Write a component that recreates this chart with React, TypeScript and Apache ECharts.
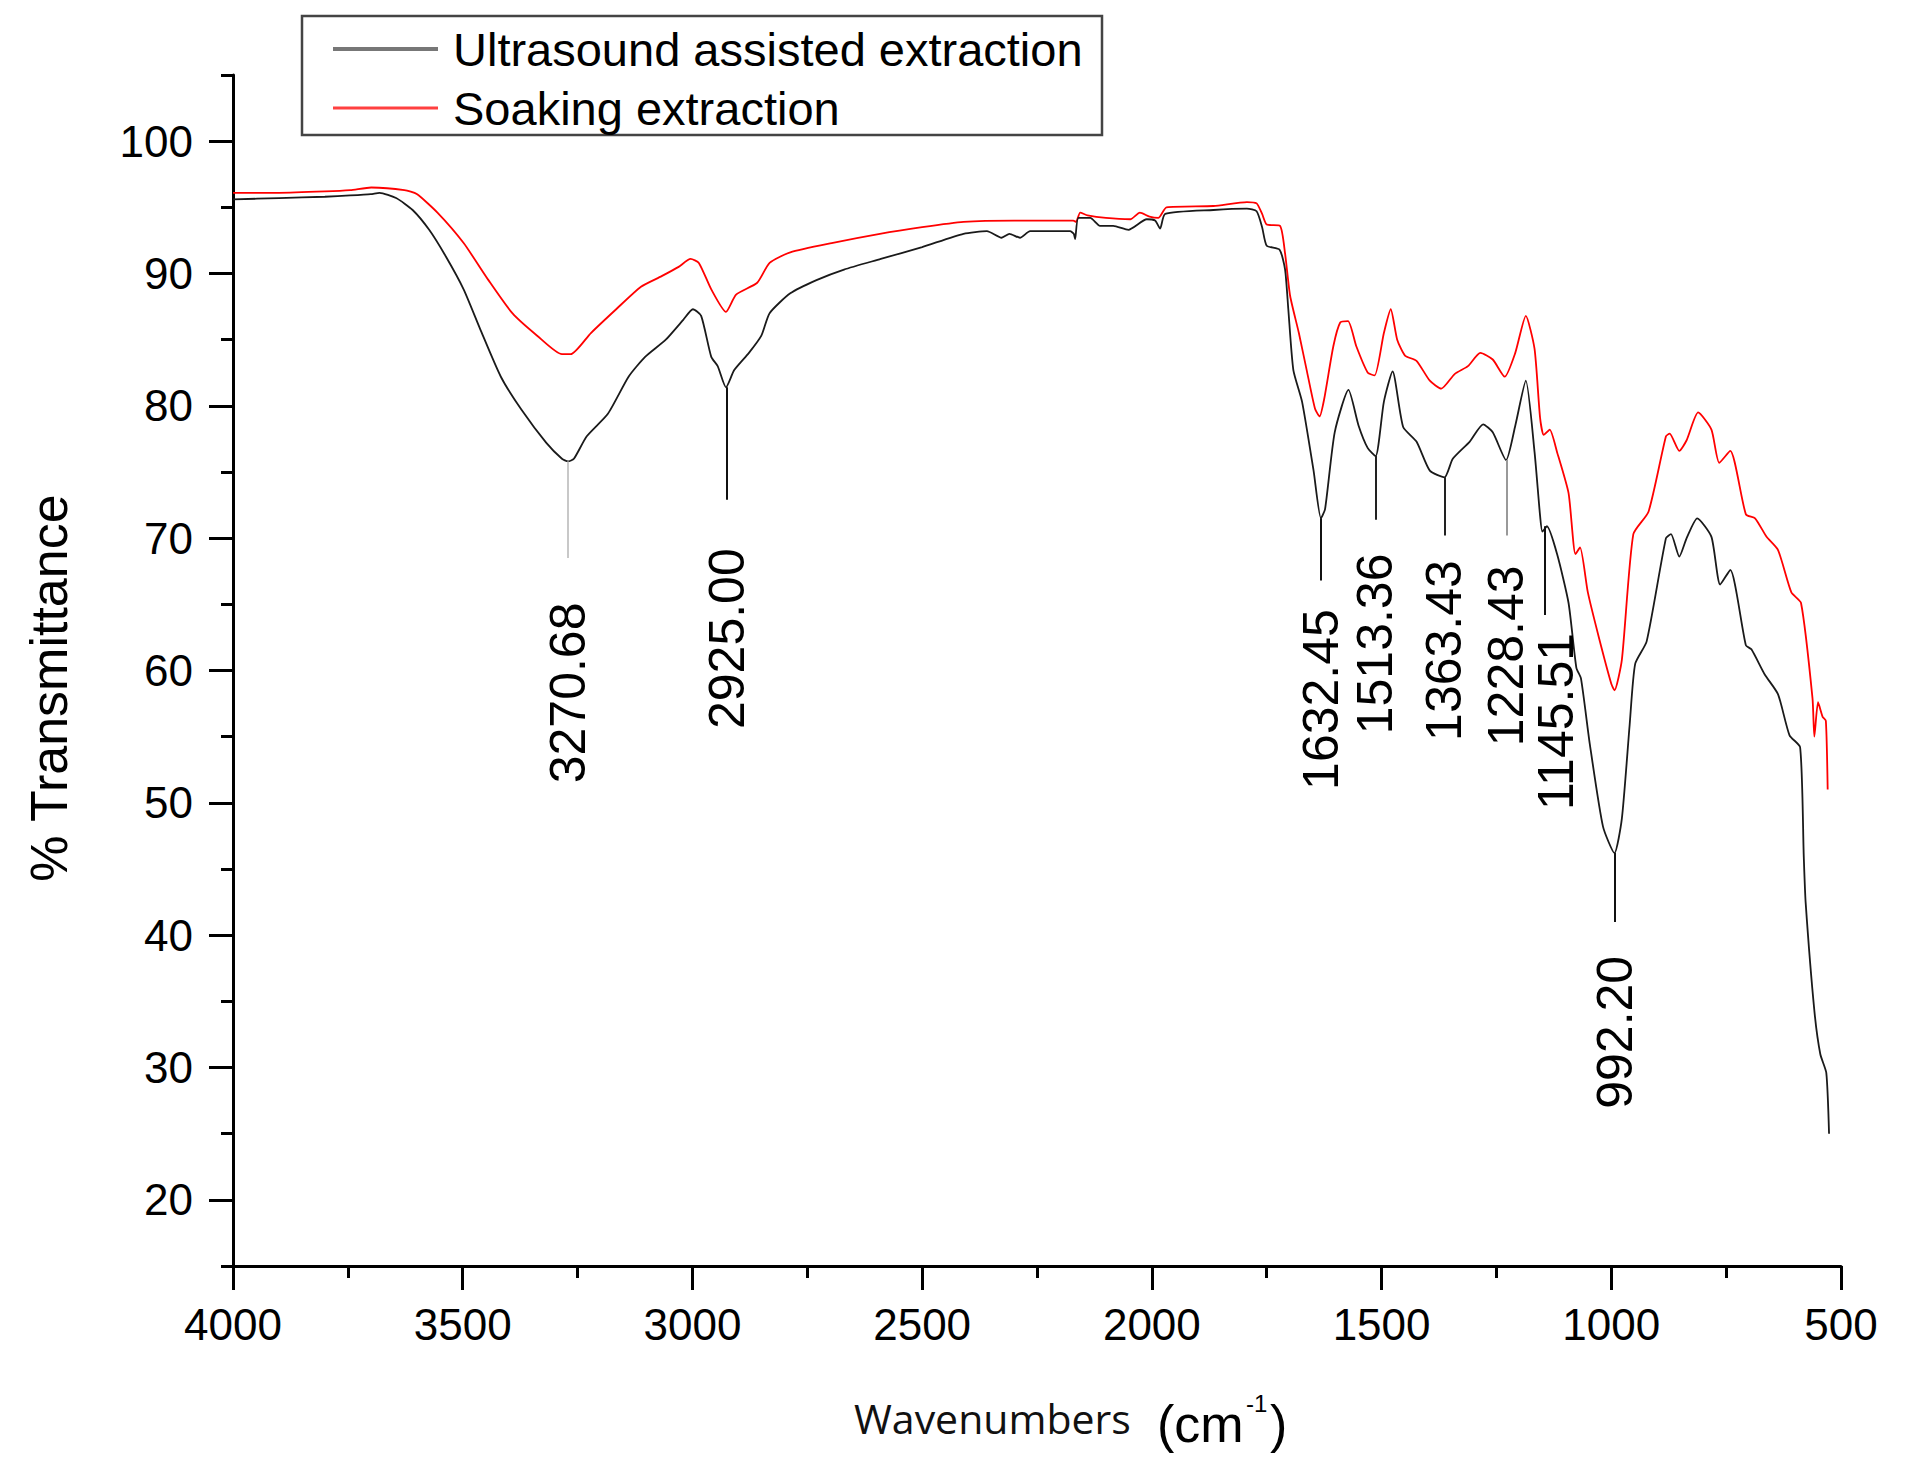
import React, { useEffect, useRef } from "react";
import * as echarts from "echarts";

// ---------- data ----------
const seriesNames = ["Ultrasound assisted extraction", "Soaking extraction"];

const ultrasoundWn = [
  4000, 3900, 3800, 3745, 3700, 3681, 3645, 3609, 3573, 3537, 3498, 3462, 3417, 3372, 3318, 3284, 3271, 3258,
  3230, 3184, 3139, 3103, 3058, 3020, 2999, 2981, 2959, 2945, 2927, 2909, 2877, 2850, 2832, 2787, 2730, 2670,
  2590, 2500, 2410, 2359, 2327, 2310, 2287, 2265, 2178, 2170, 2167, 2160, 2134, 2113, 2084, 2051, 2011, 1993,
  1982, 1971, 1866, 1793, 1772, 1760, 1750, 1722, 1710, 1703, 1692, 1673, 1648, 1632, 1623, 1602, 1572, 1550,
  1530, 1513, 1495, 1476, 1453, 1424, 1395, 1363, 1345, 1308, 1279, 1258, 1229, 1209, 1186, 1167, 1155, 1150,
  1140, 1118, 1093, 1076, 1066, 1047, 1018, 993, 977, 960, 948, 923, 881, 870, 852, 836, 813, 782, 763, 741,
  707, 695, 666, 637, 612, 589, 581, 577, 558, 545, 532, 526,
];
const ultrasoundT = [
  95.6, 95.7, 95.8, 95.9, 96.0, 96.1, 95.7, 94.8, 93.3, 91.3, 88.8, 85.8, 82.2, 79.7, 77.2, 76.0, 75.8, 76.0,
  77.7, 79.4, 82.2, 83.7, 85.0, 86.5, 87.3, 86.8, 83.7, 83.0, 81.4, 82.7, 84.0, 85.3, 87.0, 88.5, 89.5, 90.3,
  91.1, 92.0, 93.0, 93.2, 92.7, 93.0, 92.7, 93.2, 93.2, 93.0, 92.6, 94.2, 94.2, 93.6, 93.6, 93.3, 94.1, 94.0,
  93.4, 94.5, 94.8, 94.9, 94.7, 93.5, 92.1, 91.8, 90.3, 87.3, 82.7, 80.3, 75.1, 71.5, 72.2, 78.0, 81.2, 78.5,
  76.8, 76.2, 80.3, 82.6, 78.4, 77.3, 75.1, 74.6, 76.0, 77.3, 78.6, 78.0, 75.9, 78.5, 81.9, 76.5, 71.7, 70.5,
  70.9, 68.8, 65.1, 60.2, 59.4, 54.5, 48.2, 46.2, 48.8, 55.9, 60.5, 62.2, 70.0, 70.3, 68.6, 70.0, 71.5, 70.1,
  66.5, 67.6, 61.9, 61.6, 59.7, 58.2, 55.1, 54.2, 45.9, 42.5, 34.3, 31.0, 29.6, 25.0,
];

const soakingWn = [
  4000, 3900, 3800, 3745, 3699, 3627, 3600, 3555, 3498, 3444, 3392, 3338, 3284, 3265, 3221, 3166, 3112, 3067,
  3030, 3004, 2986, 2959, 2927, 2905, 2859, 2832, 2787, 2697, 2592, 2500, 2410, 2300, 2171, 2165, 2156, 2140,
  2100, 2047, 2026, 2005, 1986, 1968, 1866, 1793, 1772, 1760, 1750, 1721, 1710, 1699, 1680, 1663, 1645, 1635,
  1625, 1605, 1590, 1573, 1555, 1530, 1515, 1495, 1480, 1466, 1449, 1424, 1395, 1370, 1341, 1312, 1285, 1258,
  1232, 1209, 1186, 1167, 1155, 1147, 1134, 1118, 1093, 1078, 1068, 1051, 1027, 1000, 993, 977, 952, 919, 881,
  873, 852, 836, 811, 782, 765, 741, 707, 687, 662, 637, 608, 587, 562, 558, 550, 540, 533, 529,
];
const soakingT = [
  96.1, 96.1, 96.2, 96.3, 96.5, 96.3, 96.0, 94.6, 92.3, 89.5, 87.0, 85.3, 83.9, 83.9, 85.5, 87.3, 89.0, 89.8,
  90.5, 91.1, 90.8, 88.8, 87.1, 88.4, 89.3, 90.8, 91.6, 92.3, 93.0, 93.5, 93.9, 94.0, 94.0, 93.9, 94.6, 94.4,
  94.2, 94.1, 94.6, 94.3, 94.2, 95.0, 95.1, 95.4, 95.3, 94.5, 93.7, 93.6, 91.5, 88.3, 85.5, 82.7, 79.8, 79.2,
  80.5, 84.5, 86.3, 86.4, 84.5, 82.5, 82.3, 85.5, 87.3, 85.0, 83.8, 83.4, 81.9, 81.3, 82.4, 83.0, 84.0, 83.5,
  82.2, 84.0, 86.8, 84.3, 79.1, 77.8, 78.2, 76.5, 73.4, 68.8, 69.3, 65.9, 62.5, 59.0, 58.5, 60.8, 70.3, 72.0,
  77.7, 77.9, 76.6, 77.4, 79.5, 78.2, 75.7, 76.6, 71.8, 71.5, 70.1, 69.1, 65.9, 65.1, 57.9, 55.0, 57.6, 56.5,
  56.2, 51.0,
];

// peak annotations
const peakWn = [3270.68, 2925.0, 1632.45, 1513.36, 1363.43, 1228.43, 1145.51, 992.2];
const peakLabels = ["3270.68", "2925.00", "1632.45", "1513.36", "1363.43", "1228.43", "1145.51", "992.20"];
const peakLineTop = [75.8, 81.4, 71.5, 76.2, 74.6, 75.9, 70.9, 46.2];
const peakLineBottom = [68.5, 72.9, 66.8, 71.4, 70.2, 70.2, 64.2, 41.0];
const peakLabelTop = [65.1, 69.2, 64.6, 68.8, 68.3, 67.9, 62.8, 38.4];
const peakLineColors = ["#c8c8c8", "#111", "#111", "#222", "#222", "#999", "#111", "#111"];

// axes
const xMin = 500;
const xMax = 4000;
const xInterval = 500;
const yMin = 15;
const yMax = 105;
const yMinorInterval = 5;
const yMajorTicks = [20, 30, 40, 50, 60, 70, 80, 90, 100];

const FONT = "'Liberation Sans', Arial, sans-serif";

export default function App() {
  const ref = useRef<HTMLDivElement>(null);

  useEffect(() => {
    if (!ref.current) return;
    const chart = echarts.init(ref.current, undefined, { renderer: "svg" });

    const usData = ultrasoundWn.map((w, i) => [w, ultrasoundT[i]]);
    const soData = soakingWn.map((w, i) => [w, soakingT[i]]);

    const markLines = peakWn.map((w, i) => [
      { coord: [w, peakLineTop[i]], lineStyle: { color: peakLineColors[i], width: 2, type: "solid" } },
      { coord: [w, peakLineBottom[i]] },
    ]);

    // small horizontal nudge so the 1145.51 label clears its neighbour, as in the reference
    const labelOffsets: Record<string, number[]> = { "1145.51": [0, 12] };

    const legendBox = { x: 302, y: 16, w: 800, h: 119 };
    const legendRows = [49, 108];
    const legendLineColors = ["#777", "#ff4040"];
    const legendLineWidths = [4, 3];

    const legendGraphics: any[] = [
      {
        type: "rect",
        shape: { x: legendBox.x, y: legendBox.y, width: legendBox.w, height: legendBox.h },
        style: { fill: "#fff", stroke: "#444", lineWidth: 2.5 },
        z: 100,
      },
    ];
    seriesNames.forEach((name, i) => {
      legendGraphics.push({
        type: "line",
        shape: { x1: 333, y1: legendRows[i], x2: 438, y2: legendRows[i] },
        style: { stroke: legendLineColors[i], lineWidth: legendLineWidths[i] },
        z: 101,
      });
      legendGraphics.push({
        type: "text",
        x: 453,
        y: legendRows[i],
        style: {
          text: name,
          fontSize: 47,
          fontFamily: FONT,
          fill: "#000",
          align: "left",
          verticalAlign: "middle",
        },
        z: 101,
      });
    });

    const option: any = {
      animation: false,
      backgroundColor: "#fff",
      grid: { left: 233, right: 67, top: 75, bottom: 213, containLabel: false },
      xAxis: {
        type: "value",
        min: xMin,
        max: xMax,
        interval: xInterval,
        inverse: true,
        axisLine: { show: true, onZero: false, lineStyle: { color: "#000", width: 3 } },
        axisTick: { show: true, length: 24, lineStyle: { color: "#000", width: 3 } },
        minorTick: { show: true, splitNumber: 2, length: 12, lineStyle: { color: "#000", width: 3 } },
        splitLine: { show: false },
        minorSplitLine: { show: false },
        axisLabel: {
          fontSize: 44,
          fontFamily: FONT,
          color: "#000",
          margin: 36,
          showMinLabel: true,
          showMaxLabel: true,
          formatter: (v: number) => String(v),
        },
      },
      yAxis: [
        {
          type: "value",
          min: yMin,
          max: yMax,
          interval: yMinorInterval,
          axisLine: { show: true, onZero: false, lineStyle: { color: "#000", width: 3 } },
          axisTick: { show: true, length: 12, lineStyle: { color: "#000", width: 3 } },
          splitLine: { show: false },
          axisLabel: {
            fontSize: 44,
            fontFamily: FONT,
            color: "#000",
            margin: 40,
            formatter: (v: number) => (v % 10 === 0 ? String(v) : ""),
          },
        },
        {
          type: "value",
          min: yMin,
          max: yMax,
          position: "left",
          axisLine: { show: false },
          axisTick: { show: true, length: 24, customValues: yMajorTicks, lineStyle: { color: "#000", width: 3 } },
          axisLabel: { show: false },
          splitLine: { show: false },
        },
      ],
      graphic: [
        ...legendGraphics,
        {
          type: "text",
          x: 49,
          y: 688,
          rotation: Math.PI / 2,
          style: {
            text: "% Transmittance",
            fontSize: 52,
            fontFamily: FONT,
            fill: "#000",
            align: "center",
            verticalAlign: "middle",
          },
        },
        {
          type: "text",
          x: 854,
          y: 1418,
          style: {
            text: "Wavenumbers",
            fontSize: 41,
            fontFamily: "'Open Sans', 'Noto Sans', sans-serif",
            fill: "#111",
            align: "left",
            verticalAlign: "middle",
          },
        },
        {
          type: "text",
          x: 1157,
          y: 1424,
          style: { text: "(cm", fontSize: 52, fontFamily: FONT, fill: "#000", align: "left", verticalAlign: "middle" },
        },
        {
          type: "text",
          x: 1246,
          y: 1403,
          style: { text: "-1", fontSize: 24, fontFamily: FONT, fill: "#000", align: "left", verticalAlign: "middle" },
        },
        {
          type: "text",
          x: 1270,
          y: 1424,
          style: { text: ")", fontSize: 52, fontFamily: FONT, fill: "#000", align: "left", verticalAlign: "middle" },
        },
      ],
      series: [
        {
          name: seriesNames[0],
          type: "line",
          data: usData,
          symbol: "none",
          smooth: 0.2,
          lineStyle: { color: "#1a1a1a", width: 1.8 },
          itemStyle: { color: "#1a1a1a" },
          z: 3,
          markLine: {
            silent: true,
            symbol: ["none", "none"],
            label: { show: false },
            data: markLines,
          },
        },
        {
          name: seriesNames[1],
          type: "line",
          data: soData,
          symbol: "none",
          smooth: 0.2,
          lineStyle: { color: "#ff0000", width: 1.8 },
          itemStyle: { color: "#ff0000" },
          z: 2,
        },
        {
          name: "peaks",
          type: "scatter",
          data: peakWn.map((w, i) => ({
            value: [w, peakLabelTop[i]],
            label: { formatter: peakLabels[i], offset: labelOffsets[peakLabels[i]] || [0, 0] },
          })),
          symbolSize: 1,
          itemStyle: { color: "#000", opacity: 0 },
          silent: true,
          label: {
            show: true,
            position: "top",
            distance: 0,
            rotate: 90,
            align: "right",
            verticalAlign: "middle",
            fontSize: 50,
            fontFamily: FONT,
            color: "#000",
            opacity: 1,
          },
          z: 4,
        },
      ],
    };

    chart.setOption(option);
    return () => chart.dispose();
  }, []);

  return <div ref={ref} style={{ position: "absolute", left: 0, top: 0, width: 1908, height: 1479 }} />;
}
